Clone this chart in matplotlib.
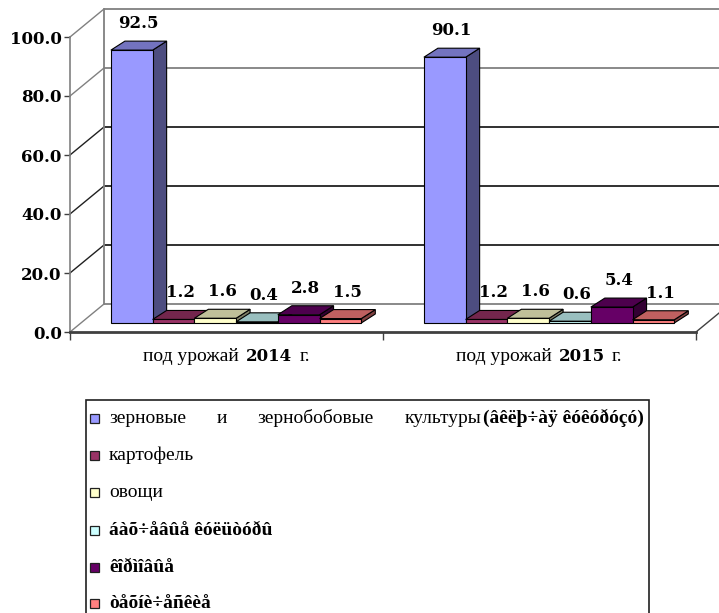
import matplotlib
matplotlib.use('Agg')
import matplotlib.pyplot as plt
from matplotlib.patches import Polygon, Rectangle

# ---------------- data ----------------
categories = ['2014', '2015']
cat_prefix = 'под урожай'
cat_suffix = 'г.'
grain = [92.5, 90.1]        # зерновые и зернобобовые культуры
potato = [1.2, 1.2]         # картофель
vegetables = [1.6, 1.6]     # овощи
melons = [0.4, 0.6]         # бахчевые культуры
fodder = [2.8, 5.4]         # кормовые
industrial = [1.5, 1.1]     # технические
series_values = [grain, potato, vegetables, melons, fodder, industrial]
legend_rows = [
    [('зерновые', 'normal'), ('и', 'normal'), ('зернобобовые', 'normal'),
     ('культуры', 'normal'), ('(âêëþ÷àÿ êóêóðóçó)', 'bold')],
    [('картофель', 'normal')],
    [('овощи', 'normal')],
    [('áàõ÷åâûå êóëüòóðû', 'bold')],
    [('êîðìîâûå', 'bold')],
    [('òåõíè÷åñêèå', 'bold')],
]
yticks = [0, 20, 40, 60, 80, 100]

front_colors = ['#9999FF', '#993366', '#FFFFCC', '#CCFFFF', '#660066', '#FF8080']
top_colors = ['#7373BF', '#73264D', '#BFBF99', '#99BFBF', '#4D004D', '#BF6060']
side_colors = ['#4D4D80', '#4D1A33', '#808066', '#668080', '#330033', '#804040']

# ---------------- figure ----------------
W, H = 719, 613
SERIF = 'Liberation Serif'
NUMF = 'DejaVu Serif'
fig = plt.figure(figsize=(W / 100, H / 100), dpi=100)
fig.patch.set_facecolor('white')

ax = fig.add_axes([70 / W, 1 - 332 / H, 626 / W, 295 / H])
ax.set_facecolor('none')
XMAX = len(categories)
px_x = 626 / XMAX
px_y = 295 / 100.0


def dxu(px):
    return px / px_x


def dyu(px):
    return px / px_y


WX, WY = dxu(34), dyu(28)      # back wall depth
BX, BY = dxu(9.6), dyu(9)      # bar plane offset
DX, DY = dxu(14), dyu(9)       # bar depth

# walls / gridlines
grid_col = {0: '#808080', 20: '#202020', 40: '#202020', 60: '#202020', 80: '#808080', 100: '#808080'}
for v in yticks:
    ax.plot([WX, XMAX + WX], [v + WY, v + WY], color=grid_col[v], lw=1.3,
            clip_on=False, zorder=1, solid_capstyle='butt')
    ax.plot([0, WX], [v, v + WY], color=grid_col[v], lw=1.0, clip_on=False, zorder=1)
ax.plot([WX, WX], [WY, 100 + WY], color='#808080', lw=1.3, clip_on=False, zorder=1)
ax.plot([XMAX, XMAX + WX], [0, WY], color='#404040', lw=1.0, clip_on=False, zorder=1)

# bars
nser = len(series_values)
group_w = 0.8
bw = group_w / nser
k = 0
for j, cat in enumerate(categories):
    center = j + 0.5
    for i, vals in enumerate(series_values):
        v = vals[j]
        x0 = center - group_w / 2 + i * bw + BX
        z = 3 + k * 0.01
        k += 1
        side = Polygon([(x0 + bw, BY), (x0 + bw + DX, BY + DY),
                        (x0 + bw + DX, BY + v + DY), (x0 + bw, BY + v)],
                       closed=True, facecolor=side_colors[i], edgecolor='black',
                       lw=0.8, clip_on=False, zorder=z)
        top = Polygon([(x0, BY + v), (x0 + bw, BY + v),
                       (x0 + bw + DX, BY + v + DY), (x0 + DX, BY + v + DY)],
                      closed=True, facecolor=top_colors[i], edgecolor='black',
                      lw=0.8, clip_on=False, zorder=z)
        ax.add_patch(side)
        ax.add_patch(top)
        ax.bar(x0, v, width=bw, bottom=BY, align='edge', color=front_colors[i],
               edgecolor='black', lw=0.8, clip_on=False, zorder=z)
        ax.text(x0 + bw / 2 + DX / 2, BY + v + DY + dyu(13), f'{v:.1f}',
                ha='center', va='baseline', fontfamily=NUMF, fontweight='bold',
                fontsize=12, zorder=10, clip_on=False)

ax.set_xlim(0, XMAX)
ax.set_ylim(0, 100)
for s in ['top', 'right']:
    ax.spines[s].set_visible(False)
ax.spines['left'].set_color('#808080')
ax.spines['left'].set_linewidth(1.2)
ax.spines['bottom'].set_color('#404040')
ax.spines['bottom'].set_linewidth(2)
ax.spines['left'].set_zorder(2)
ax.spines['bottom'].set_zorder(2)
ax.set_yticks(yticks, labels=[f'{v:.1f}' for v in yticks], fontfamily=NUMF,
              fontweight='bold', fontsize=12)
ax.set_xticks(range(XMAX + 1), labels=[''] * (XMAX + 1))
ax.tick_params(axis='y', direction='out', length=4, width=1, color='#404040', pad=2)
ax.tick_params(axis='x', direction='out', length=6, width=1, color='#404040')

# ---------------- text runs ----------------
fig.canvas.draw()
renderer = fig.canvas.get_renderer()


def make_text(s, weight, size, base_px, family=SERIF):
    return fig.text(0, 1 - base_px / H, s, fontfamily=family, fontweight=weight,
                    fontsize=size, va='baseline', ha='left', color='black')


def width_of(t):
    return t.get_window_extent(renderer).width


# category labels
for j, cat in enumerate(categories):
    cx = 70 + (j + 0.5) * px_x
    base = 361
    pieces = [make_text(cat_prefix, 'normal', 14, base),
              make_text(cat, 'bold', 12, base, NUMF),
              make_text(cat_suffix, 'normal', 14, base)]
    ws = [width_of(t) for t in pieces]
    gap = 7
    total = sum(ws) + gap * (len(ws) - 1)
    x = cx - total / 2
    for t, w_ in zip(pieces, ws):
        t.set_x(x / W)
        x += w_ + gap

# legend
fig.patches.append(Rectangle((86 / W, 1 - 660 / H), (649 - 86) / W, (660 - 400) / H,
                             transform=fig.transFigure, facecolor='white',
                             edgecolor='#202020', lw=1.2, zorder=0))
row_y = [418, 455, 492, 530, 567, 603]
text_x0 = 109
for r, row in enumerate(legend_rows):
    yc = row_y[r]
    fig.patches.append(Rectangle((90 / W, 1 - (yc + 4.5) / H), 9 / W, 9 / H,
                                 transform=fig.transFigure, facecolor=front_colors[r],
                                 edgecolor='#202020', lw=0.9, zorder=2))
    base = yc + 5
    texts = [make_text(s, wgt, 14, base) for s, wgt in row]
    ws = [width_of(t) for t in texts]
    if len(texts) == 1:
        texts[0].set_x(text_x0 / W)
    else:
        right = 644
        bold_x = right - ws[-1]
        texts[-1].set_x(bold_x / W)
        reg = texts[:-1]
        rws = ws[:-1]
        span = bold_x - text_x0
        gap = (span - sum(rws)) / (len(reg) - 1 + 0.05)
        x = text_x0
        for t, w_ in zip(reg, rws):
            t.set_x(x / W)
            x += w_ + gap

fig.savefig('out.png', dpi=100, facecolor='white')
